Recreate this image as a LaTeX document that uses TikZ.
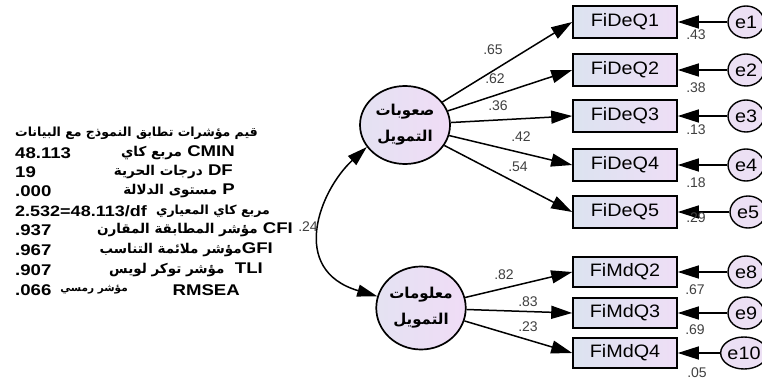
\documentclass[tikz,border=0pt]{standalone}
\usepackage{fontspec}
\setmainfont{Liberation Sans}
\newfontfamily\arabicfont[Script=Arabic]{DejaVu Sans}
\newfontfamily\legfont[FakeStretch=1.2]{Liberation Sans}
\newfontfamily\boxfont[FakeStretch=1.1]{Liberation Sans}
\TeXXeTstate=1
\usetikzlibrary{arrows.meta,shapes.geometric}
\newcommand{\artxt}[1]{{\arabicfont\bfseries\beginR #1\endR}}
\newcommand{\legar}[1]{{\fontsize{13.5}{14}\selectfont\artxt{#1}}}
\definecolor{boxL}{RGB}{220,227,240}
\definecolor{boxR}{RGB}{238,222,246}
\definecolor{latL}{RGB}{228,226,242}
\definecolor{latR}{RGB}{240,220,246}
\definecolor{errC}{RGB}{236,224,244}
\begin{document}
\begin{tikzpicture}[x=1pt,y=-1pt,
  obs/.style={draw=black, line width=1.6pt, minimum width=104pt, minimum height=32pt,
    left color=boxL, right color=boxR, inner sep=0pt, font=\boxfont\fontsize{18}{18}\selectfont},
  lat/.style={ellipse, draw=black, line width=1.7pt, left color=latL, right color=latR,
    align=center, inner sep=0pt, font=\fontsize{15}{26}\selectfont},
  err/.style={ellipse, draw=black, line width=1.4pt, fill=errC, minimum width=36pt,
    minimum height=32pt, inner sep=0pt, font=\boxfont\fontsize{18}{18}\selectfont},
  arr/.style={line width=1.5pt, -{Triangle[length=21pt,width=13pt]}},
  coef/.style={font=\fontsize{14}{14}\selectfont, text=black!75, inner sep=0pt},
  legn/.style={anchor=west, inner sep=0pt, font=\legfont\bfseries\fontsize{15.5}{16}\selectfont},
  legl/.style={anchor=east, inner sep=0pt, font=\legfont\bfseries\fontsize{15.5}{16}\selectfont}
]
\useasboundingbox (0,0) rectangle (762,382);
\fill[white] (0,0) rectangle (762,382);
\clip (0,0) rectangle (762,382);

% latent variables
\node[lat, minimum width=90pt, minimum height=78pt] (c1) at (405,125) {\artxt{صعوبات}\\\artxt{التمويل}};
\node[lat, minimum width=88pt, minimum height=83pt] (c2) at (421,308) {\artxt{معلومات}\\\artxt{التمويل}};

% observed
\node[obs] (b1) at (625,22) {FiDeQ1};
\node[obs] (b2) at (625,70) {FiDeQ2};
\node[obs] (b3) at (625,116) {FiDeQ3};
\node[obs] (b4) at (625,165) {FiDeQ4};
\node[obs] (b5) at (625,212) {FiDeQ5};
\node[obs, minimum height=30pt] (b6) at (625,272) {FiMdQ2};
\node[obs, minimum height=30pt] (b7) at (625,313) {FiMdQ3};
\node[obs, minimum height=30pt] (b8) at (625,353) {FiMdQ4};

% errors
\node[err] (e1) at (746,22) {e1};
\node[err] (e2) at (746,70) {e2};
\node[err] (e3) at (746,116) {e3};
\node[err] (e4) at (746,165) {e4};
\node[err] (e5) at (748,212) {e5};
\node[err] (e8) at (746,272) {e8};
\node[err] (e9) at (746,313) {e9};
\node[err, minimum width=40pt] (e10) at (744,353) {e10};

% paths
\foreach \b in {b1,b2,b3,b4,b5} \draw[arr] (c1) -- (\b.west);
\foreach \b in {b6,b7,b8} \draw[arr] (c2) -- (\b.west);
\foreach \e/\b in {e1/b1,e2/b2,e3/b3,e4/b4,e5/b5,e8/b6,e9/b7,e10/b8} \draw[arr] (\e) -- (\b.east);

\draw[line width=1.5pt, {Triangle[length=20pt,width=12pt]}-{Triangle[length=20pt,width=12pt]}]
  (c1.210) .. controls (320,190) and (288,270) .. (c2.165);

% coefficients
\node[coef] (k1) at (493,50) {.65};
\node[coef] (k2) at (495,79) {.62};
\node[coef] (k3) at (498,106) {.36};
\node[coef] (k4) at (521,137) {.42};
\node[coef] (k5) at (518,167) {.54};
\node[coef] (k6) at (504,275) {.82};
\node[coef] (k7) at (528,302) {.83};
\node[coef] (k8) at (528,327) {.23};
\node[coef] (k9) at (308,227) {.24};
\node[coef] (r1) at (696,35) {.43};
\node[coef] (r2) at (696,88) {.38};
\node[coef] (r3) at (696,130) {.13};
\node[coef] (r4) at (696,183) {.18};
\node[coef] (r5) at (696,218) {.29};
\node[coef] (r6) at (695,290) {.67};
\node[coef] (r7) at (695,330) {.69};
\node[coef] (r8) at (697,373) {.05};

% legend
\node[anchor=west, inner sep=0pt, font=\fontsize{12.5}{14}\selectfont] (t0) at (15,133) {\artxt{قيم مؤشرات تطابق النموذج مع البيانات}};
\node[legn] (n1) at (15,153) {48.113};
\node[legl] (l1) at (235,153) {\legar{مربع كاي} CMIN};
\node[legn] (n2) at (15,172) {19};
\node[legl] (l2) at (233,172) {\legar{درجات الحرية} DF};
\node[legn] (n3) at (15,191) {.000};
\node[legl] (l3) at (235,191) {\legar{مستوى الدلالة} P};
\node[legn, font=\legfont\bfseries\fontsize{15}{16}\selectfont] (n4) at (15,211) {2.532=48.113/df};
\node[legl, font=\fontsize{12.5}{14}\selectfont] (l4) at (270,211) {\artxt{مربع كاي المعياري}};
\node[legn] (n5) at (15,230) {.937};
\node[legl] (l5) at (293,230) {\legar{مؤشر المطابقة المقارن} CFI};
\node[legn] (n6) at (15,250) {.967};
\node[legl] (l6) at (273,250) {\legar{مؤشر ملائمة التناسب}GFI};
\node[legn] (n7) at (15,270) {.907};
\node[legl] (l7) at (263,270) {\legar{مؤشر توكر لويس}\ \ TLI};
\node[legn] (n8) at (15,290) {.066};
\node[legl, font=\fontsize{10.5}{14}\selectfont] (l8a) at (128,290) {\artxt{مؤشر رمسي}};
\node[legl] (l8) at (240,290) {RMSEA};
\end{tikzpicture}
\end{document}
